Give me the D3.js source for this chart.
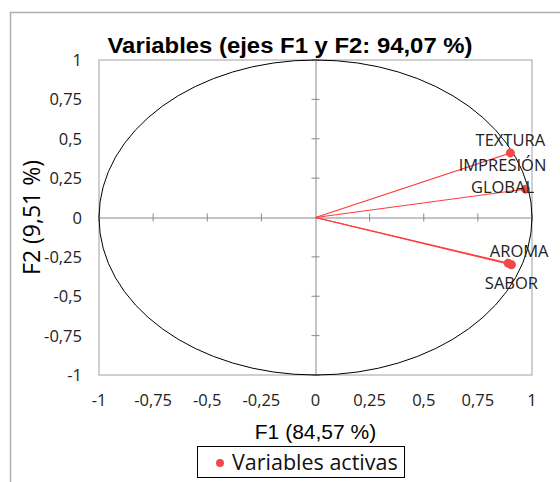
<!DOCTYPE html>
<html lang="es">
<head>
<meta charset="UTF-8">
<title>Variables (ejes F1 y F2)</title>
<script src="https://d3js.org/d3.v7.min.js"></script>
<style>
  body { margin: 0; background: #fff; }
  svg { display: block; }
</style>
</head>
<body>
<svg id="chart" width="560" height="482"></svg>
<script>
// variables activas: coordenadas en F1 / F2
const names = ["TEXTURA", "IMPRESIÓN GLOBAL", "AROMA", "SABOR"];
const f1 = [0.90, 0.97, 0.89, 0.905];
const f2 = [0.41, 0.18, -0.29, -0.30];
const ticks = [-1, -0.75, -0.5, -0.25, 0, 0.25, 0.5, 0.75, 1];

const svg = d3.select("#chart");
const fmt = d => String(d).replace(".", ",");
const lblFont = "'Open Sans', Lato, sans-serif";
const arial = "'Liberation Sans', Arial, sans-serif";

// outer frame
svg.append("rect")
  .attr("x", 10.5).attr("y", 12.5)
  .attr("width", 580).attr("height", 500)
  .attr("fill", "none").attr("stroke", "#b0b0b0").attr("stroke-width", 1.5);

const x = d3.scaleLinear().domain([-1, 1]).range([99, 532]);
const y = d3.scaleLinear().domain([-1, 1]).range([375, 60]);

// plot border
svg.append("rect")
  .attr("x", x(-1)).attr("y", y(1))
  .attr("width", x(1) - x(-1)).attr("height", y(-1) - y(1))
  .attr("fill", "none").attr("stroke", "#c0c0c0").attr("stroke-width", 1.5);

// axes through origin
const ax = svg.append("g")
  .attr("transform", `translate(0,${y(0)})`)
  .call(d3.axisBottom(x).tickValues(ticks).tickSize(0).tickFormat(""));
ax.select(".domain").attr("stroke", "#888");
const ay = svg.append("g")
  .attr("transform", `translate(${x(0)},0)`)
  .call(d3.axisLeft(y).tickValues(ticks).tickSize(0).tickFormat(""));
ay.select(".domain").attr("stroke", "#888");

// small crossing ticks
svg.append("g").selectAll("line").data(ticks.filter(t => t !== 0)).join("line")
  .attr("x1", d => x(d)).attr("x2", d => x(d))
  .attr("y1", y(0) - 4).attr("y2", y(0) + 4)
  .attr("stroke", "#888");
svg.append("g").selectAll("line").data(ticks.filter(t => t !== 0)).join("line")
  .attr("x1", x(0) - 4).attr("x2", x(0) + 4)
  .attr("y1", d => y(d)).attr("y2", d => y(d))
  .attr("stroke", "#888");

// tick labels
svg.append("g").selectAll("text").data(ticks).join("text")
  .attr("x", d => x(d)).attr("y", 406)
  .attr("text-anchor", "middle")
  .attr("font-family", lblFont).attr("font-size", 16.5).attr("fill", "#222")
  .text(fmt);
svg.append("g").selectAll("text").data(ticks).join("text")
  .attr("x", 82).attr("y", d => y(d) + 6)
  .attr("text-anchor", "end")
  .attr("font-family", lblFont).attr("font-size", 16.5).attr("fill", "#222")
  .text(fmt);

// correlation circle
svg.append("ellipse")
  .attr("cx", x(0)).attr("cy", y(0))
  .attr("rx", x(1) - x(0)).attr("ry", y(0) - y(1))
  .attr("fill", "none").attr("stroke", "#000").attr("stroke-width", 1);

// vectors
const data = names.map((n, i) => ({ name: n, f1: f1[i], f2: f2[i] }));
svg.append("g").selectAll("line").data(data).join("line")
  .attr("x1", x(0)).attr("y1", y(0))
  .attr("x2", d => x(d.f1)).attr("y2", d => y(d.f2))
  .attr("stroke", "#ff3b3b").attr("stroke-width", 1.2);
svg.append("g").selectAll("circle").data(data).join("circle")
  .attr("cx", d => x(d.f1)).attr("cy", d => y(d.f2))
  .attr("r", 4.5).attr("fill", "#f44848");

// point labels (centred, offsets from the point)
const lab = [
  { name: "TEXTURA", dx: 0, dy: -7, lines: ["TEXTURA"] },
  { name: "IMPRESIÓN GLOBAL", dx: -23, dy: -18, lines: ["IMPRESIÓN", "GLOBAL"] },
  { name: "AROMA", dx: 11, dy: -6, lines: ["AROMA"] },
  { name: "SABOR", dx: 0, dy: 24, lines: ["SABOR"] }
];
lab.forEach(l => {
  const d = data.find(v => v.name === l.name);
  const t = svg.append("text")
    .attr("text-anchor", "middle")
    .attr("font-family", lblFont).attr("font-size", 16.5).attr("fill", "#222");
  l.lines.forEach((s, k) => {
    t.append("tspan")
      .attr("x", x(d.f1) + l.dx)
      .attr("y", y(d.f2) + l.dy + k * 22)
      .text(s);
  });
});

// title
svg.append("text")
  .attr("x", 290).attr("y", 53)
  .attr("text-anchor", "middle")
  .attr("font-family", arial)
  .attr("font-weight", "bold").attr("font-size", 22)
  .attr("textLength", 365).attr("lengthAdjust", "spacingAndGlyphs")
  .text("Variables (ejes F1 y F2: 94,07 %)");

// axis titles
svg.append("text")
  .attr("x", x(0)).attr("y", 439)
  .attr("text-anchor", "middle")
  .attr("font-family", arial).attr("font-size", 21)
  .text("F1 (84,57 %)");
svg.append("text")
  .attr("transform", `translate(40,${y(0)}) rotate(-90)`)
  .attr("text-anchor", "middle")
  .attr("font-family", lblFont).attr("font-size", 23)
  .text("F2 (9,51 %)");

// legend
const lg = svg.append("g").attr("transform", "translate(197,446)");
lg.append("rect").attr("x", 0.5).attr("y", 0.5).attr("width", 207).attr("height", 31)
  .attr("fill", "#fff").attr("stroke", "#000");
lg.append("circle").attr("cx", 23).attr("cy", 17).attr("r", 4).attr("fill", "#f44848");
lg.append("text").attr("x", 35).attr("y", 24)
  .attr("font-family", lblFont).attr("font-size", 21.5).attr("fill", "#111")
  .text("Variables activas");
</script>
</body>
</html>
